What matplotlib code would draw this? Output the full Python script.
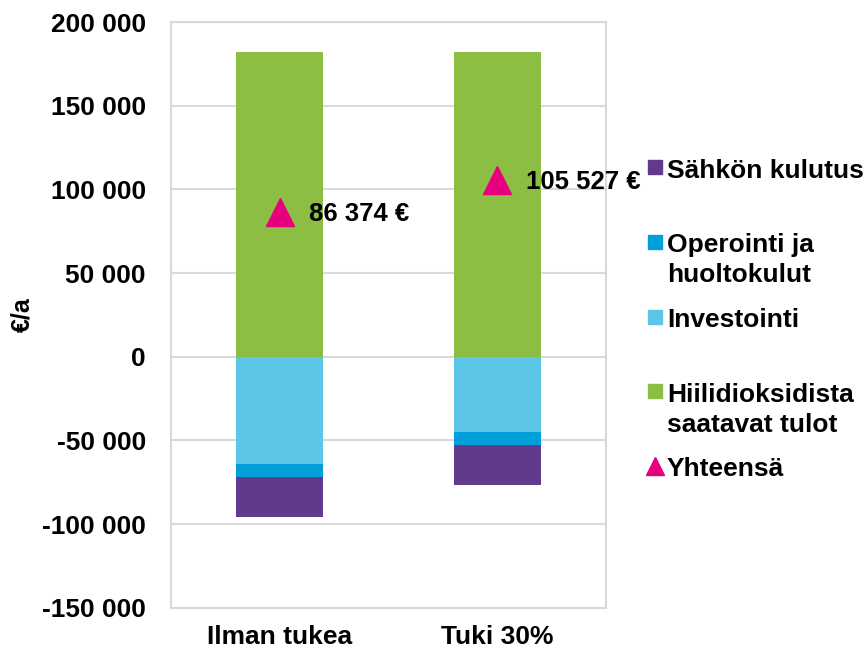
import numpy as np
import matplotlib.pyplot as plt
from matplotlib.lines import Line2D

plt.rcParams['font.family'] = ['Liberation Sans', 'DejaVu Sans']
plt.rcParams['font.weight'] = 'bold'

# data (€/a)
categories = ['Ilman tukea', 'Tuki 30%']
co2_income = [182000, 182000]        # Hiilidioksidista saatavat tulot
investment = [-64000, -45000]        # Investointi
operation = [-7900, -7700]           # Operointi ja huoltokulut
electricity = [-23726, -23773]       # Sähkön kulutus
totals = [86374, 105527]             # Yhteensä
total_labels = ['86 374 €', '105 527 €']
y_ticks = [-150000, -100000, -50000, 0, 50000, 100000, 150000, 200000]

c_green = '#8cbe44'
c_light = '#5bc6e8'
c_dark = '#009fda'
c_purple = '#613a8b'
c_magenta = '#e6007e'
c_grid = '#d9d9d9'

fs = 19
W, H = 867, 650

fig = plt.figure(figsize=(W / 100, H / 100), dpi=100)
ax = fig.add_axes([0.197, 0.065, 0.502, 0.901])

x = np.arange(len(categories))
w = 0.4
ax.bar(x, co2_income, w, color=c_green, zorder=2)
ax.bar(x, investment, w, color=c_light, zorder=2)
bot = np.array(investment)
ax.bar(x, operation, w, bottom=bot, color=c_dark, zorder=2)
bot = bot + np.array(operation)
ax.bar(x, electricity, w, bottom=bot, color=c_purple, zorder=2)

ax.plot(x, totals, linestyle='none', marker='^', markersize=20,
        color=c_magenta, zorder=3)
for xi, yi, lab in zip(x, totals, total_labels):
    ax.annotate(lab, (xi, yi), xytext=(21, -1), textcoords='offset points',
                va='center', ha='left', fontsize=18.5, fontweight='bold', zorder=4)

ax.set_xlim(-0.5, 1.5)
ax.set_ylim(-150000, 200000)
ax.set_yticks(y_ticks)
ax.set_yticklabels([f'{v:,}'.replace(',', ' ') for v in y_ticks])
ax.set_xticks(x)
ax.set_xticklabels(categories)
ax.tick_params(axis='both', length=0, labelsize=fs)
ax.tick_params(axis='x', pad=12.5)
ax.tick_params(axis='y', pad=18)
for lab in ax.get_xticklabels() + ax.get_yticklabels():
    lab.set_fontweight('bold')
ax.yaxis.grid(True, color=c_grid, linewidth=1.5, zorder=0)
for s in ax.spines.values():
    s.set_color(c_grid)
    s.set_linewidth(1.5)

fig.text(22 / W, 1 - 315 / H, '€/a', rotation=90, fontsize=18, fontweight='bold',
         ha='center', va='center')

# legend, Excel style: every entry gets a two-line slot, marker on first line
leg_labels = ['Sähkön kulutus', 'Operointi ja\nhuoltokulut', 'Investointi',
              'Hiilidioksidista\nsaatavat tulot', 'Yhteensä']
leg_colors = [c_purple, c_dark, c_light, c_green, c_magenta]
leg_markers = ['s', 's', 's', 's', '^']
leg_sizes = [10, 10, 10, 10, 13]
slot = 74.75
for i, (lab, col, mk, ms) in enumerate(zip(leg_labels, leg_colors, leg_markers, leg_sizes)):
    yc = 168 + slot * i
    fig.add_artist(Line2D([655 / W], [1 - (yc - 1) / H], transform=fig.transFigure,
                          linestyle='none', marker=mk, markersize=ms, color=col))
    for k, line in enumerate(lab.split('\n')):
        fig.text(667 / W, 1 - (yc + 30 * k) / H, line, fontsize=fs,
                 fontweight='bold', ha='left', va='center_baseline')

fig.savefig('out.png', dpi=100)
